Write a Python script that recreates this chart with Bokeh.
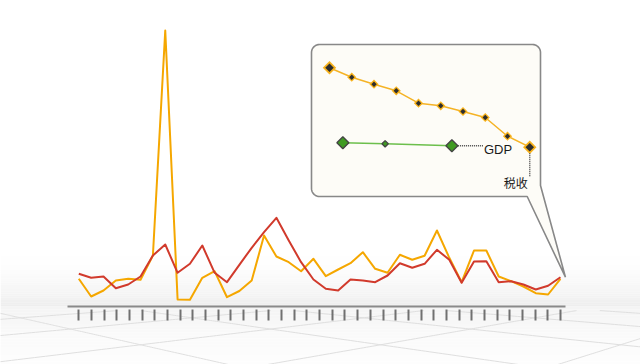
import numpy as np
from bokeh.plotting import figure
from bokeh.models import Range1d, LinearAxis, FixedTicker, CustomJSTickFormatter
from bokeh.core.properties import value
from bokeh.embed import file_html
from bokeh.resources import INLINE

# ---------------- data ----------------
series_orange = [27.7, 10.0, 16.0, 26.0, 27.7, 26.7, 51.0, 276.0, 7.0, 6.7,
                 28.7, 35.3, 9.3, 15.5, 26.0, 71.0, 50.0, 44.3, 35.3, 47.7,
                 30.3, 37.0, 43.3, 54.3, 37.7, 33.7, 51.7, 46.7, 50.7, 76.0,
                 48.7, 24.3, 56.0, 56.0, 30.0, 25.3, 20.0, 13.3, 12.0, 27.7]
series_red = [32.7, 28.7, 30.0, 18.3, 22.0, 30.0, 51.0, 62.0, 33.7, 42.7,
              61.0, 33.7, 24.3, 41.7, 58.7, 74.3, 88.7, 66.0, 44.3, 27.0,
              17.7, 16.0, 27.0, 26.0, 24.3, 31.0, 43.3, 38.7, 42.7, 56.7,
              46.7, 23.7, 45.0, 45.3, 24.3, 25.3, 22.0, 17.0, 20.7, 29.3]
inset_tax = [92.7, 83.3, 76.3, 69.7, 57.3, 54.7, 49.0, 43.0, 24.3, 13.3]
inset_gdp = [17.7, 16.7, 14.7]
inset_gdp_x = [0.6, 2.5, 5.5]
label_gdp = "GDP"
label_tax = "税收"

n = len(series_orange)
xs = list(range(n))
tax_x = list(range(len(inset_tax)))

# ---------------- layout ----------------
W, H = 640, 364
X0, DX = 78.3, 12.35          # main x scale (px)
BASE = 306                    # baseline pixel
IX0, IDX, IY0 = 329, 22.25, 160  # inset scale

C_ORANGE = "#f5a700"
C_RED = "#d13a2c"

p = figure(width=W, height=H, output_backend="svg", toolbar_location=None,
           min_border=0, x_axis_type=None, y_axis_type=None,
           x_range=Range1d(-X0 / DX, (W - X0) / DX),
           y_range=Range1d(BASE - H, BASE))
p.outline_line_color = None
p.background_fill_color = "white"
p.border_fill_color = "white"
p.extra_x_ranges = {"px": Range1d(0, W), "ix": Range1d(-IX0 / IDX, (W - IX0) / IDX)}
p.extra_y_ranges = {"py": Range1d(H, 0), "iy": Range1d(IY0 - H, IY0)}

def hexgray(v):
    v = int(round(v))
    return "#%02x%02x%02x" % (v, v, v)

# wall gradient above the baseline
nb = 28
edges = np.linspace(245, BASE, nb + 1)
t = np.linspace(0, 1, nb) ** 2
p.quad(left=0, right=W, top=edges[:-1], bottom=edges[1:],
       fill_color=[hexgray(255 - 17 * v) for v in t], line_color=None,
       x_range_name="px", y_range_name="py")
# floor gradient
nf = 20
fedges = np.linspace(BASE, H, nf + 1)
tf = np.linspace(1, 0, nf) ** 1.5
p.quad(left=0, right=W, top=fedges[:-1], bottom=fedges[1:],
       fill_color=[hexgray(253 - 9 * v) for v in tf], line_color=None,
       x_range_name="px", y_range_name="py")

# perspective floor grid (decorative)
yh, F, Hc, th, s = 250.0, 600.0, 1.0, np.radians(45), 1.8
fl_x, fl_y = [], []
tt = np.linspace(-60, 60, 2400)
for k in range(-40, 41):
    for fam in (0, 1):
        if fam == 0:
            Xp, Zp = np.full_like(tt, k * s), tt
        else:
            Xp, Zp = tt, np.full_like(tt, k * s + 0.5 * s)
        X = Xp * np.cos(th) - Zp * np.sin(th)
        Z = 7.0 + Xp * np.sin(th) + Zp * np.cos(th)
        ok = Z > 0.5
        sx = W / 2 + F * X[ok] / Z[ok]
        sy = yh + F * Hc / Z[ok]
        m = (sy >= BASE + 4) & (sy <= H + 2) & (sx > -60) & (sx < W + 60)
        if m.sum() > 1:
            fl_x.append(list(sx[m]))
            fl_y.append(list(sy[m]))
p.multi_line(fl_x, fl_y, line_color="#dfdfdf", line_width=1,
             x_range_name="px", y_range_name="py")

# axes: tick axis and baseline axis
tick_axis = LinearAxis(fixed_location=-3,
                       ticker=FixedTicker(ticks=list(np.linspace(0, n - 1, n - 1))),
                       formatter=CustomJSTickFormatter(code="return ''"),
                       axis_line_color=None, major_tick_in=0, major_tick_out=11,
                       major_tick_line_color="#707070", major_tick_line_width=2,
                       minor_tick_line_color=None, major_label_standoff=0)
base_axis = LinearAxis(fixed_location=0, bounds=(-0.94, n - 1 + 0.37),
                       ticker=FixedTicker(ticks=[]),
                       formatter=CustomJSTickFormatter(code="return ''"),
                       axis_line_color="#8a8a8a", axis_line_width=2,
                       major_tick_line_color=None, minor_tick_line_color=None)
p.add_layout(tick_axis, "below")
p.add_layout(base_axis, "below")

# main series
p.line(xs, series_orange, line_color=C_ORANGE, line_width=2, line_join="round")
p.line(xs, series_red, line_color=C_RED, line_width=2, line_join="round")

# callout box with pointer (pixel space)
bx0, by0, bx1, by1, r = 311, 44, 540, 196, 8
tipx = X0 + DX * (n - 1) + 5
tipy = BASE - series_red[-1]
def arc(cx, cy, a0, a1):
    a = np.radians(np.linspace(a0, a1, 10))
    return list(cx + r * np.cos(a)), list(cy + r * np.sin(a))
ox, oy = [], []
for (cx, cy, a0, a1) in [(bx0 + r, by0 + r, 180, 270), (bx1 - r, by0 + r, 270, 360)]:
    ax_, ay_ = arc(cx, cy, a0, a1)
    ox += ax_; oy += ay_
ox += [bx1, tipx, 526.7]
oy += [185, tipy, by1]
ax_, ay_ = arc(bx0 + r, by1 - r, 90, 180)
ox += ax_; oy += ay_
p.patch(ox, oy, fill_color="#fdfcf7", line_color="#888888", line_width=1.6,
        x_range_name="px", y_range_name="py")

# inset chart
p.line(tax_x, inset_tax, line_color="#f5b325", line_width=1.5,
       x_range_name="ix", y_range_name="iy")
p.line(inset_gdp_x, inset_gdp, line_color="#6cbf4c", line_width=1.5,
       x_range_name="ix", y_range_name="iy")
nt = len(inset_tax)
big_o = [9.5 if i in (0, nt - 1) else 6.5 for i in range(nt)]
big_i = [6 if i in (0, nt - 1) else 3.8 for i in range(nt)]
p.scatter(tax_x, inset_tax, marker="square", angle=np.pi / 4, size=big_o,
          fill_color="#f7b21c", line_color=None, x_range_name="ix", y_range_name="iy")
p.scatter(tax_x, inset_tax, marker="square", angle=np.pi / 4, size=big_i,
          fill_color="#2e2e2e", line_color=None, x_range_name="ix", y_range_name="iy")
ng = len(inset_gdp)
p.scatter(inset_gdp_x, inset_gdp, marker="square", angle=np.pi / 4,
          size=[8.5 if i in (0, ng - 1) else 4.5 for i in range(ng)],
          fill_color="#3f9a22", line_color="#444444", line_width=1.3,
          x_range_name="ix", y_range_name="iy")

# leaders and labels (pixel space)
gx = IX0 + IDX * inset_gdp_x[-1]
gy = IY0 - inset_gdp[-1]
tx = IX0 + IDX * tax_x[-1]
ty = IY0 - inset_tax[-1]
p.segment(x0=[gx + 6, tx], y0=[gy, ty + 6], x1=[gx + 31, tx], y1=[gy, ty + 30],
          line_color="#444444", line_width=1.4, line_dash="1 1",
          x_range_name="px", y_range_name="py")
p.text(x=[gx + 32], y=[gy + 4], text=[label_gdp], text_font=value("Liberation Sans"),
       text_font_size="13px", text_color="#1a1a1a", text_baseline="middle",
       text_align="left", x_range_name="px", y_range_name="py")
p.text(x=[tx - 2], y=[ty + 35], text=[label_tax], text_font=value("Noto Sans CJK SC"),
       text_font_size="12px", text_color="#1a1a1a", text_baseline="middle",
       text_align="right", x_range_name="px", y_range_name="py")

open("out.html", "w").write(file_html(p, INLINE))
